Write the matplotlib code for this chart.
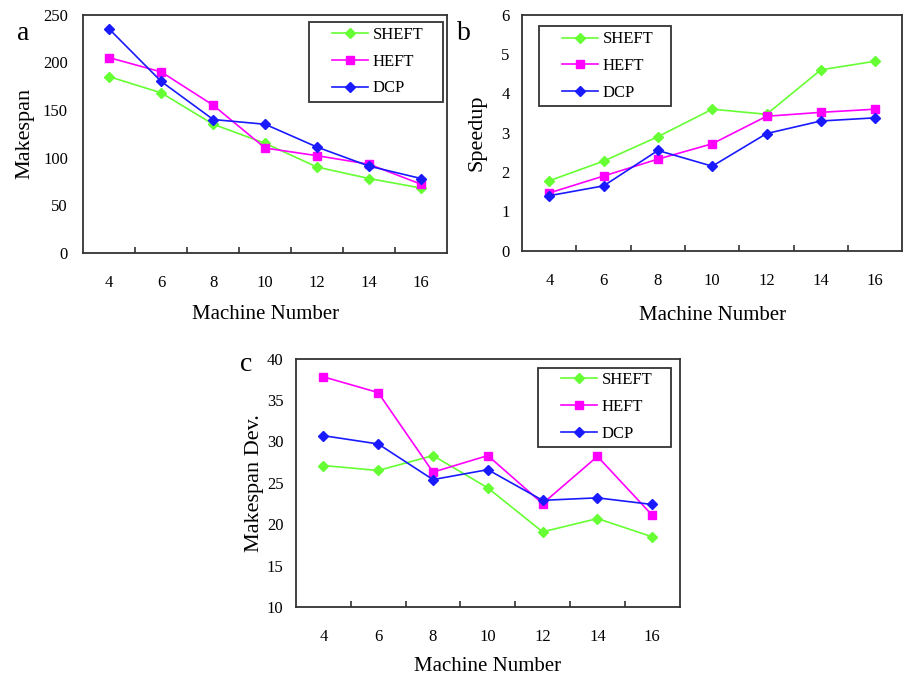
import matplotlib
matplotlib.use("Agg")
import matplotlib.pyplot as plt
from matplotlib.patches import Rectangle
import numpy as np

plt.rcParams['font.family'] = ['Liberation Serif', 'DejaVu Serif']

machines = [4, 6, 8, 10, 12, 14, 16]
series_names = ["SHEFT", "HEFT", "DCP"]

makespan_sheft = [185, 168, 135, 115, 90, 78, 68]
makespan_heft = [205, 190, 155, 110, 102, 93, 72]
makespan_dcp = [235, 180, 140, 135, 111, 91, 78]

speedup_sheft = [1.78, 2.28, 2.90, 3.60, 3.47, 4.60, 4.82]
speedup_heft = [1.47, 1.90, 2.33, 2.72, 3.42, 3.52, 3.60]
speedup_dcp = [1.40, 1.65, 2.55, 2.15, 2.98, 3.30, 3.38]

dev_sheft = [27.1, 26.5, 28.3, 24.4, 19.1, 20.7, 18.5]
dev_heft = [37.8, 35.9, 26.3, 28.3, 22.5, 28.2, 21.1]
dev_dcp = [30.7, 29.7, 25.4, 26.6, 22.9, 23.2, 22.4]

colors = ["#66ff33", "#ff00ff", "#1a1aff"]
markers = ["D", "s", "D"]
msizes = [5, 6, 5]
edge = '#333333'


def panel(ax, data, ylim, yticks, ylabel, ypad, ylabelpad, xlabelpad, frame, anchor):
    x = np.arange(len(machines))
    for vals, name, c, m, ms in zip(data, series_names, colors, markers, msizes):
        ax.plot(x, vals, color=c, marker=m, markersize=ms, linewidth=1.2, label=name)
    ax.set_xlim(-0.5, len(machines) - 0.5)
    ax.set_ylim(*ylim)
    ax.set_yticks(yticks)
    ax.set_xticks(x)
    ax.set_xticklabels([str(v) for v in machines])
    ax.set_xticks(np.arange(0.5, len(machines) - 1, 1), minor=True)
    ax.tick_params(axis='x', which='major', length=0, pad=16, labelsize=12)
    ax.tick_params(axis='x', which='minor', length=4, direction='in', color=edge, width=1.2)
    ax.tick_params(axis='y', length=0, pad=ypad, labelsize=12)
    for s in ax.spines.values():
        s.set_color(edge)
        s.set_linewidth(1.3)
    ax.set_xlabel("Machine Number", fontsize=15, labelpad=xlabelpad)
    ax.set_ylabel(ylabel, fontsize=16, labelpad=ylabelpad)
    # legend frame drawn separately so the padding can match the original
    x0, y0, x1, y1 = frame
    ax.add_patch(Rectangle((x0, y0), x1 - x0, y1 - y0, transform=ax.transAxes,
                           facecolor='white', edgecolor=edge, linewidth=1.3, zorder=5))
    leg = ax.legend(loc='upper left', bbox_to_anchor=anchor, fontsize=12, frameon=False,
                    handlelength=2.15, borderpad=0, labelspacing=0.65,
                    handletextpad=0.3, borderaxespad=0)
    leg.set_zorder(6)
    return ax


fig = plt.figure(figsize=(9.05, 6.74), dpi=100)

ax_a = fig.add_axes([0.092, 0.625, 0.402, 0.353])
panel(ax_a, [makespan_sheft, makespan_heft, makespan_dcp], (0, 250),
      [0, 50, 100, 150, 200, 250], "Makespan", 11, 6, 10,
      (0.621, 0.634, 0.989, 0.971), (0.684, 0.950))

ax_b = fig.add_axes([0.577, 0.628, 0.420, 0.350])
panel(ax_b, [speedup_sheft, speedup_heft, speedup_dcp], (0, 6),
      [0, 1, 2, 3, 4, 5, 6], "Speedup", 9, 11, 12,
      (0.045, 0.614, 0.392, 0.953), (0.105, 0.930))

ax_c = fig.add_axes([0.327, 0.099, 0.424, 0.369])
panel(ax_c, [dev_sheft, dev_heft, dev_dcp], (10, 40),
      [10, 15, 20, 25, 30, 35, 40], "Makespan Dev.", 9, 2, 8,
      (0.630, 0.643, 0.977, 0.964), (0.690, 0.946))

fig.text(0.019, 0.94, "a", fontsize=20)
fig.text(0.505, 0.94, "b", fontsize=20)
fig.text(0.265, 0.45, "c", fontsize=20)

fig.savefig("out.png", dpi=100)
